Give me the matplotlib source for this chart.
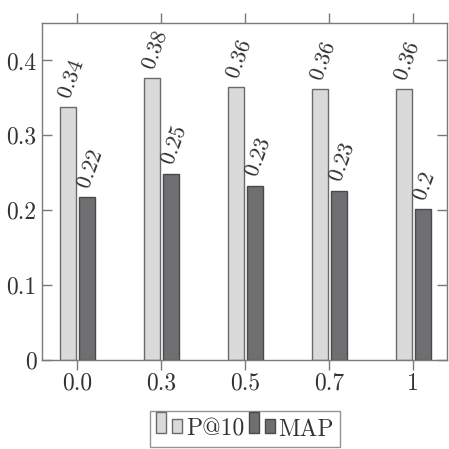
import matplotlib.pyplot as plt
import numpy as np
from matplotlib.legend_handler import HandlerBase
from matplotlib.patches import Rectangle

plt.rcParams['font.family'] = 'serif'
plt.rcParams['font.serif'] = ['cmr10']
plt.rcParams['mathtext.fontset'] = 'cm'
plt.rcParams['axes.formatter.use_mathtext'] = True

# dados
categorias = ["0.0", "0.3", "0.5", "0.7", "1"]
p_at_10 = [0.338, 0.376, 0.364, 0.362, 0.362]
map_vals = [0.217, 0.249, 0.233, 0.226, 0.201]
rotulos_p = ["0.34", "0.38", "0.36", "0.36", "0.36"]
rotulos_map = ["0.22", "0.25", "0.23", "0.23", "0.2"]

cinza = "#7a7a7a"
texto = "#333333"
x = np.arange(len(categorias))
w = 0.19
off = 0.115


# legenda no estilo pgfplots (duas barrinhas)
class HandlerBarras(HandlerBase):
    def create_artists(self, legend, orig, xd, yd, width, height, fontsize, trans):
        fc = orig.get_facecolor()
        ec = orig.get_edgecolor()
        bw = width * 0.38
        r1 = Rectangle((xd, yd), bw, height, facecolor=fc, edgecolor=ec, lw=1.0, transform=trans)
        r2 = Rectangle((xd + width - bw, yd), bw, height * 0.7, facecolor=fc, edgecolor=ec, lw=1.0,
                       transform=trans)
        return [r1, r2]


fig = plt.figure(figsize=(4.49, 4.49), dpi=100)
ax = fig.add_axes([42 / 449, 1 - 360 / 449, 405 / 449, 337 / 449])

b1 = ax.bar(x - off, p_at_10, w, color="#dadada", edgecolor="#6a6a6a", linewidth=1.0, label="P@10")
b2 = ax.bar(x + off, map_vals, w, color="#6f6f72", edgecolor="#4a4a4a", linewidth=1.0, label="MAP")

# rotulos acima das barras
for xi, v, r in zip(x - off, p_at_10, rotulos_p):
    ax.text(xi - 0.04, v + 0.012, "$\\mathit{" + r + "}$", rotation=70, rotation_mode='anchor',
            ha='left', va='center', fontsize=16, color=texto)
for xi, v, r in zip(x + off, map_vals, rotulos_map):
    ax.text(xi - 0.04, v + 0.012, "$\\mathit{" + r + "}$", rotation=70, rotation_mode='anchor',
            ha='left', va='center', fontsize=16, color=texto)

ax.set_xlim(-0.42, 4.4)
ax.set_ylim(0, 0.45)
ax.set_xticks(x)
ax.set_xticklabels(categorias)
ax.set_yticks([0, 0.1, 0.2, 0.3, 0.4])
ax.set_yticklabels(["0", "0.1", "0.2", "0.3", "0.4"])
ax.tick_params(axis='y', direction='in', length=7, width=1.0, color=cinza, labelsize=17,
               labelcolor=texto, left=True, right=True, pad=4)
ax.tick_params(axis='x', direction='out', length=7, width=1.0, color=cinza, labelsize=17,
               labelcolor=texto, bottom=True, top=True, pad=2)
for s in ax.spines.values():
    s.set_color(cinza)
    s.set_linewidth(1.0)

leg = fig.legend([b1.patches[0], b2.patches[0]], ["P@10", "MAP"],
                 handler_map={Rectangle: HandlerBarras()},
                 loc='center', bbox_to_anchor=(245 / 449, 1 - 429 / 449), ncol=2, frameon=True,
                 fancybox=False, edgecolor=cinza, fontsize=17, handlelength=1.1, handleheight=1.0,
                 handletextpad=0.15, columnspacing=0.2, borderpad=0.25, borderaxespad=0)
for t in leg.get_texts():
    t.set_color(texto)
leg.get_frame().set_linewidth(1.0)

fig.savefig("out.png", dpi=100)
